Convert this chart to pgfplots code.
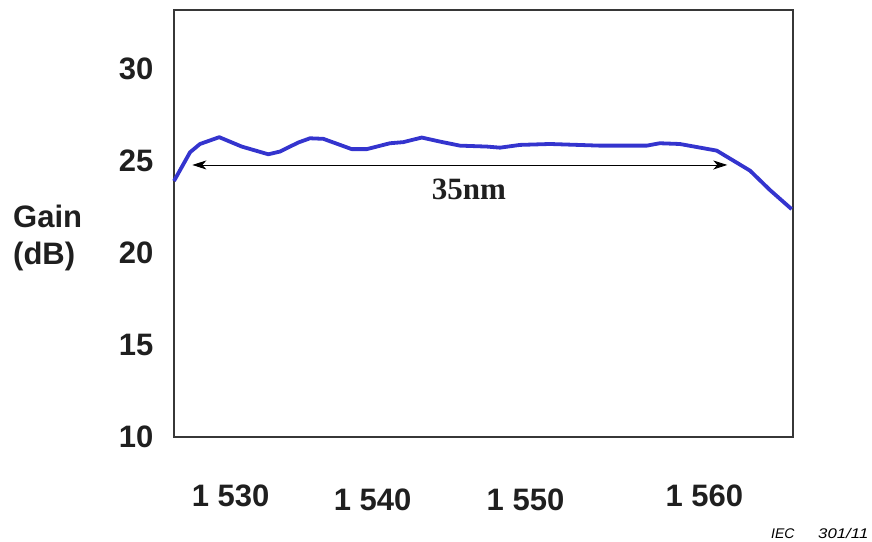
\documentclass[border=0pt]{standalone}
\usepackage{pgfplots}
\pgfplotsset{compat=1.18}
\usepackage{fontspec}
\setmainfont{Liberation Sans}
\newfontfamily\timesfont{Liberation Serif}
\usetikzlibrary{arrows.meta}
\definecolor{curve}{RGB}{52,52,206}
\definecolor{frame}{RGB}{55,55,55}
\begin{document}
\begin{tikzpicture}[x=1pt,y=1pt]
\begin{axis}[at={(0,0)}, anchor=south west, scale only axis,
  width=619pt, height=427pt,
  xmin=1526, xmax=1566.5, ymin=10, ymax=33.2,
  axis line style={frame, line width=1.4pt},
  major tick length=0pt,
  xtick={1529.7,1560.7},
  xticklabels={1 530,1 560},
  extra x ticks={1539.0,1549.0},
  extra x tick labels={1 540,1 550},
  extra x tick style={xticklabel style={yshift=-4pt}},
  ytick={10,15,20,25,30}, yticklabels={10,15,20,25,30},
  xticklabel style={font=\bfseries\fontsize{31}{34}\selectfont, text=black!88, yshift=-44pt},
  yticklabel style={font=\bfseries\fontsize{31}{34}\selectfont, text=black!88, xshift=-17pt},
  clip=false]
\addplot[curve, line width=3.8pt, line join=round] coordinates {
(1526.00,23.91) (1527.05,25.47) (1527.70,25.92) (1528.96,26.29)
(1530.43,25.78) (1532.17,25.36) (1532.94,25.51) (1534.13,26.00)
(1534.90,26.23) (1535.77,26.20) (1537.63,25.64) (1538.61,25.64)
(1540.13,25.96) (1541.00,26.02) (1542.21,26.27) (1543.40,26.05)
(1544.71,25.83) (1546.46,25.78) (1547.33,25.72) (1548.64,25.87)
(1550.60,25.92) (1553.87,25.83) (1556.93,25.83) (1557.78,25.96)
(1559.09,25.92) (1561.51,25.56) (1563.69,24.47) (1564.99,23.42)
(1566.41,22.38)};
\draw[black, line width=0.9pt, {Stealth[length=14pt,width=9pt,inset=4pt]}-{Stealth[length=14pt,width=9pt,inset=4pt]}]
  (axis cs:1527.2,24.78) -- (axis cs:1562.2,24.78);
\node[font=\timesfont\bfseries\fontsize{31}{34}\selectfont, text=black!88] at (axis cs:1545.3,23.45) {35nm};
\end{axis}
\node[anchor=west, align=left, font=\bfseries\fontsize{31}{37}\selectfont, text=black!88, inner sep=0pt] at (-161pt,199pt) {Gain\\(dB)};
\node[anchor=base west, font=\itshape\fontsize{14}{16}\selectfont, inner sep=0pt] at (597pt,-101pt) {IEC};
\node[anchor=base west, font=\itshape\fontsize{14}{16}\selectfont, inner sep=0pt] at (644pt,-101pt) {\scalebox{1.2}[1]{301/11}};
\pgfresetboundingbox
\useasboundingbox (-174pt,-104pt) rectangle (698pt,437pt);
\end{tikzpicture}
\end{document}
